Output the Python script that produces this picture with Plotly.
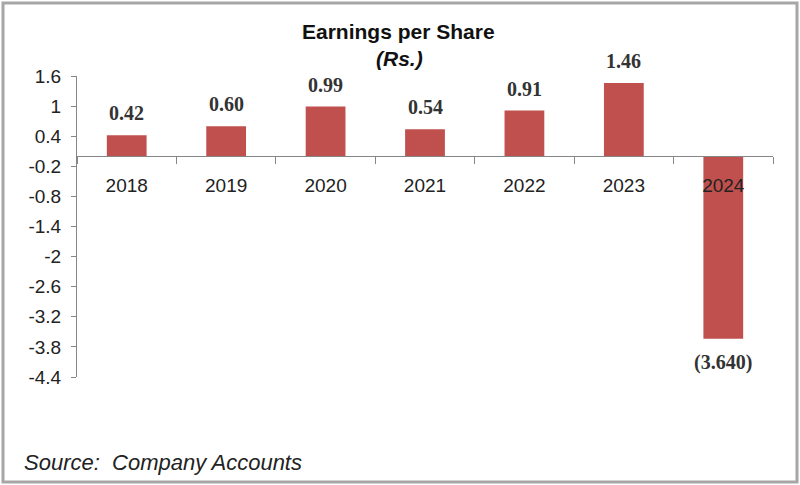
import plotly.graph_objects as go

years = ["2018", "2019", "2020", "2021", "2022", "2023", "2024"]
eps = [0.42, 0.60, 0.99, 0.54, 0.91, 1.46, -3.64]
labels = ["0.42", "0.60", "0.99", "0.54", "0.91", "1.46", "(3.640)"]
y_ticks = [1.6, 1, 0.4, -0.2, -0.8, -1.4, -2, -2.6, -3.2, -3.8, -4.4]
y_tick_text = ["1.6", "1", "0.4", "-0.2", "-0.8", "-1.4", "-2", "-2.6", "-3.2", "-3.8", "-4.4"]

Y_MIN, Y_MAX = -4.4, 1.6
BAR = "#c0504d"
SANS = "Liberation Sans, Arial, sans-serif"
SERIF = "Liberation Serif, Times New Roman, serif"

fig = go.Figure()
fig.add_trace(go.Bar(
    x=years, y=eps, marker=dict(color=BAR, line=dict(width=0)),
    width=0.4, hoverinfo="skip",
))

annotations = []
for i, (v, lab) in enumerate(zip(eps, labels)):
    annotations.append(dict(
        x=i, y=v, xref="x", yref="y", text=f"<b>{lab}</b>", showarrow=False,
        yanchor="middle", yshift=22 if v >= 0 else -24,
        font=dict(family=SERIF, size=20, color="#333333"),
    ))

annotations.append(dict(
    x=(398 - 77) / 696, y=(377 - 32) / 301, xref="paper", yref="paper", xanchor="center", yanchor="middle",
    text="<b>Earnings per Share</b>", showarrow=False,
    font=dict(family=SANS, size=21, color="#111111"),
))
annotations.append(dict(
    x=(399 - 77) / 696, y=(377 - 58) / 301, xref="paper", yref="paper", xanchor="center", yanchor="middle",
    text="<b><i>(Rs.)</i></b>", showarrow=False,
    font=dict(family=SANS, size=21, color="#111111"),
))
annotations.append(dict(
    x=(22 - 77) / 696, y=(377 - 463) / 301, xref="paper", yref="paper", xanchor="left", yanchor="middle",
    text="<i>Source:  Company Accounts</i>", showarrow=False,
    font=dict(family=SANS, size=22, color="#222222"),
))

zero_pos = (0 - Y_MIN) / (Y_MAX - Y_MIN)

fig.update_layout(
    width=800, height=485,
    margin=dict(l=77, r=27, t=76, b=108),
    paper_bgcolor="white", plot_bgcolor="white",
    showlegend=False,
    xaxis=dict(
        type="category", range=[-0.5, len(years) - 0.5], autorange=False,
        anchor="free", position=zero_pos,
        showline=True, linecolor="#868686", linewidth=1,
        ticks="outside", ticklen=7, tickcolor="#868686", tickson="boundaries",
        showgrid=False, zeroline=False, tickangle=0, ticklabelstandoff=12,
        tickfont=dict(family=SANS, size=19, color="#222222"),
    ),
    yaxis=dict(
        range=[Y_MIN, Y_MAX], autorange=False, tickvals=y_ticks, ticktext=y_tick_text,
        showline=True, linecolor="#868686", linewidth=1,
        ticks="outside", ticklen=5, tickcolor="#868686", ticklabelstandoff=6,
        showgrid=False, zeroline=False,
        tickfont=dict(family=SANS, size=19, color="#222222"),
    ),
    annotations=annotations,
    shapes=[dict(
        type="rect", xref="paper", yref="paper",
        x0=(3 - 77) / 696, x1=(797 - 77) / 696,
        y0=(377 - 482) / 301, y1=(377 - 3) / 301,
        line=dict(color="#a6a6a6", width=3), fillcolor="rgba(0,0,0,0)", layer="below",
    )],
)

fig.write_html(
    "out.html",
    config={"displayModeBar": False},
    post_script="document.body.style.margin='0';document.body.style.overflow='hidden';",
)
